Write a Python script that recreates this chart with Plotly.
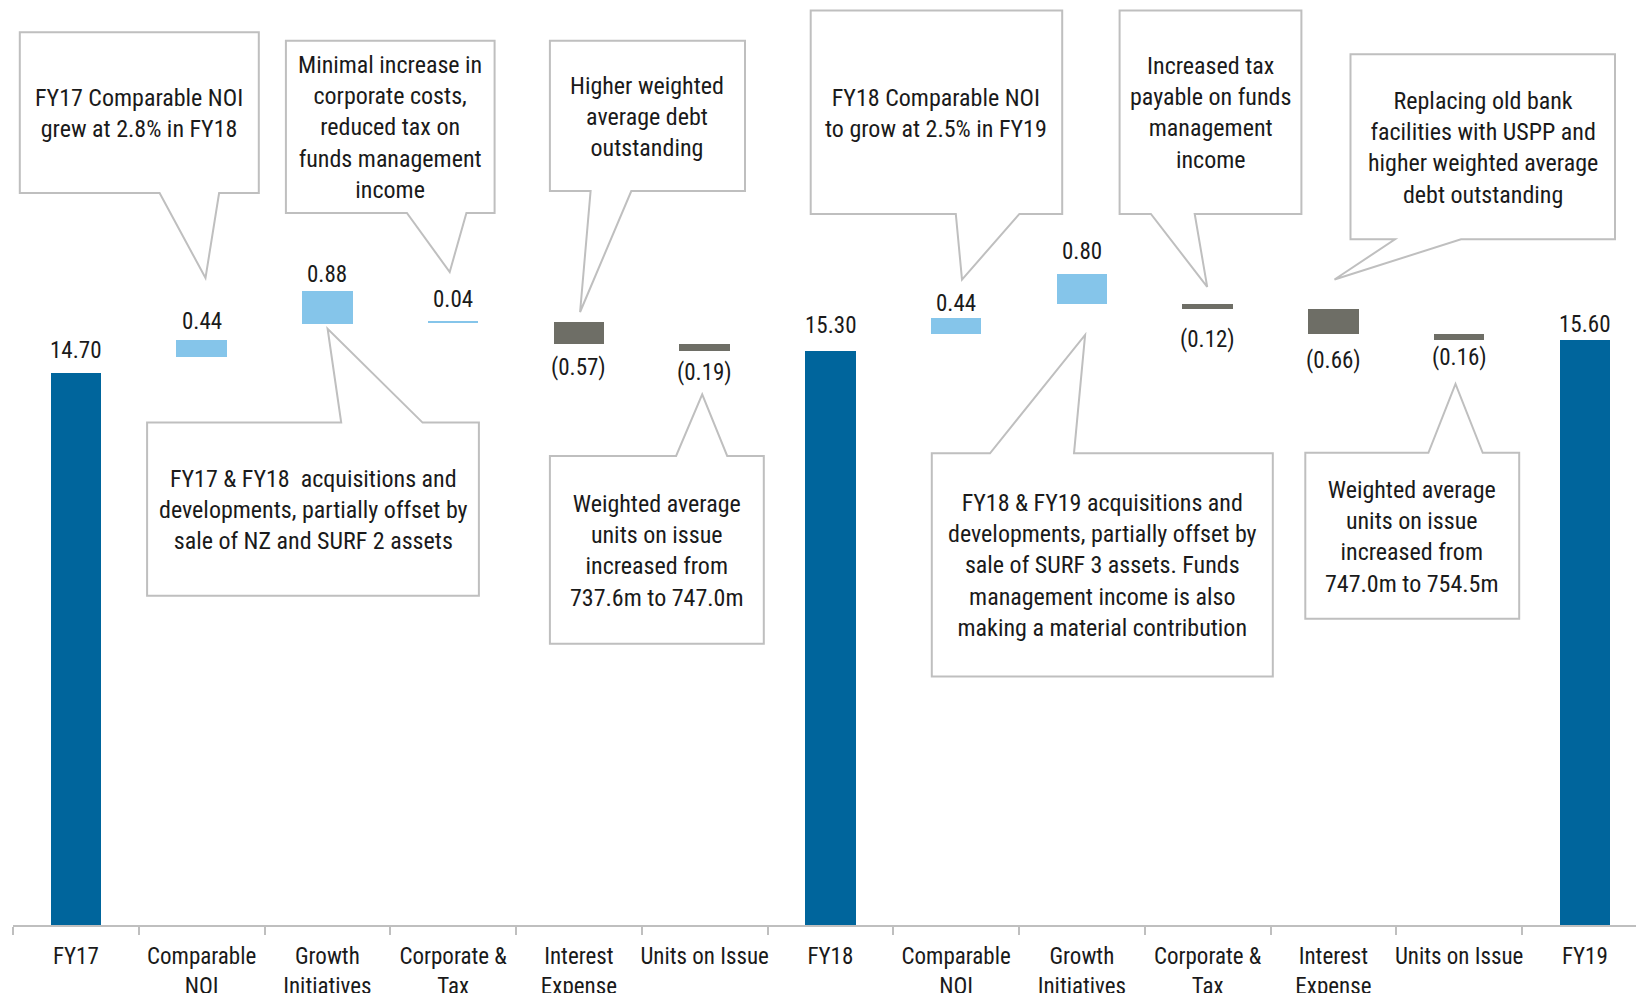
import plotly.graph_objects as go

# ---- data -------------------------------------------------------------
categories = [
    "FY17", "Comparable NOI", "Growth Initiatives", "Corporate & Tax",
    "Interest Expense", "Units on Issue", "FY18", "Comparable NOI",
    "Growth Initiatives", "Corporate & Tax", "Interest Expense",
    "Units on Issue", "FY19",
]
tick_labels = [
    "FY17", "Comparable<br>NOI", "Growth<br>Initiatives", "Corporate &<br>Tax",
    "Interest<br>Expense", "Units on Issue", "FY18", "Comparable<br>NOI",
    "Growth<br>Initiatives", "Corporate &<br>Tax", "Interest<br>Expense",
    "Units on Issue", "FY19",
]
values = [14.70, 0.44, 0.88, 0.04, -0.57, -0.19, 15.30,
          0.44, 0.80, -0.12, -0.66, -0.16, 15.60]
is_total = [True, False, False, False, False, False, True,
            False, False, False, False, False, True]

callout_texts = [
    "FY17 Comparable NOI<br>grew at 2.8% in FY18",
    "Minimal increase in<br>corporate costs,<br>reduced tax on<br>funds management<br>income",
    "Higher weighted<br>average debt<br>outstanding",
    "FY18 Comparable NOI<br>to grow at 2.5% in FY19",
    "Increased tax<br>payable on funds<br>management<br>income",
    "Replacing old bank<br>facilities with USPP and<br>higher weighted average<br>debt outstanding",
    "FY17 &amp; FY18\u00a0 acquisitions and<br>developments, partially offset by<br>sale of NZ and SURF 2 assets",
    "Weighted average<br>units on issue<br>increased from<br>737.6m to 747.0m",
    "FY18 &amp; FY19 acquisitions and<br>developments, partially offset by<br>sale of SURF 3 assets. Funds<br>management income is also<br>making a material contribution",
    "Weighted average<br>units on issue<br>increased from<br>747.0m to 754.5m",
]

# ---- styling ----------------------------------------------------------
FONT = ("Roboto Condensed, Noto Sans Condensed, Liberation Sans Narrow, "
        "Arial Narrow, DejaVu Sans Condensed, sans-serif")
C_TOTAL = "#00659C"
C_UP = "#85C5EA"
C_DOWN = "#6E6E66"
C_BOX = "#BFBFBF"
C_TEXT = "#1A1A1A"

W, H = 1636, 993
ML, MB = 13, 68
PLOT_W, PLOT_H = W - ML, H - MB
CAT_PX = 125.75          # pixel width of one category
UNIT_PX = 37.53          # pixels per unit on the value axis

# extra downward nudge (px) of each value label, label by label
label_nudge = [2, 2, 4, -1, 1, -1, -1, 6, -2, 8, 4, -4, 9]

# ---- waterfall geometry (floating bars sit on the running total) -------
bases, heights, colors, labels = [], [], [], []
running = 0.0
for v, tot in zip(values, is_total):
    if tot:
        running = v
        bases.append(0.0)
        heights.append(v)
        colors.append(C_TOTAL)
        labels.append(f"{v:.2f}")
    else:
        running += v
        if v >= 0:
            bases.append(running)
            colors.append(C_UP)
            labels.append(f"{v:.2f}")
        else:
            bases.append(running - v)
            colors.append(C_DOWN)
            labels.append(f"({abs(v):.2f})")
        heights.append(v)

xs = list(range(len(categories)))

fig = go.Figure()
fig.add_trace(go.Bar(
    x=xs, y=heights, base=bases, width=0.4,
    marker=dict(color=colors, line=dict(width=0)),
    hovertext=categories, showlegend=False,
))

# value labels
for i, (b, h, lab, tot) in enumerate(zip(bases, heights, labels, is_total)):
    nudge = label_nudge[i] * 1.04
    if h >= 0:
        fig.add_annotation(x=i, y=b + h, xref="x", yref="y", text=lab,
                           showarrow=False, yanchor="bottom",
                           yshift=(9 if tot else 5) - nudge,
                           font=dict(family=FONT, size=23, color=C_TEXT))
    else:
        fig.add_annotation(x=i, y=b + h, xref="x", yref="y", text=lab,
                           showarrow=False, yanchor="top", yshift=-7 - nudge,
                           font=dict(family=FONT, size=23, color=C_TEXT))

# ---- callouts (pixel layout: box x0, x1, y0, y1, tail side, tail base a, b, apex) ----
callout_boxes = [
    (19.8, 258.8, 32.3, 193.0, "bottom", 159.6, 219.1, (205.5, 278.0)),
    (285.9, 494.6, 40.7, 213.0, "bottom", 406.9, 466.4, (449.7, 272.0)),
    (549.9, 745.0, 40.7, 191.0, "bottom", 590.6, 631.3, (580.1, 312.0)),
    (810.7, 1062.2, 10.4, 213.9, "bottom", 955.8, 1019.4, (962.0, 279.6)),
    (1119.6, 1301.4, 10.4, 213.9, "bottom", 1150.9, 1194.7, (1207.2, 286.9)),
    (1350.5, 1615.0, 54.3, 239.3, "bottom", 1395.0, 1461.0, (1334.5, 279.5)),
    (147.1, 478.9, 422.6, 595.8, "top", 341.2, 422.6, (327.6, 328.7)),
    (549.9, 763.8, 456.0, 643.8, "top", 676.1, 727.2, (702.2, 394.4)),
    (931.8, 1272.8, 453.3, 676.5, "top", 990.0, 1074.0, (1085.1, 334.9)),
    (1305.3, 1519.2, 452.8, 618.7, "top", 1428.4, 1482.7, (1455.5, 384.0)),
]


def paper(px, py):
    return (px - ML) / PLOT_W, (PLOT_H - py) / PLOT_H


def path_of(points):
    pts = [paper(*p) for p in points]
    return "M " + " L ".join(f"{x:.5f},{y:.5f}" for x, y in pts) + " Z"


for (x0, x1, y0, y1, side, ta, tb, apex), txt in zip(callout_boxes, callout_texts):
    if side == "bottom":
        pts = [(x0, y0), (x1, y0), (x1, y1), (tb, y1), apex, (ta, y1), (x0, y1)]
    else:
        pts = [(x0, y0), (ta, y0), apex, (tb, y0), (x1, y0), (x1, y1), (x0, y1)]
    fig.add_shape(type="path", path=path_of(pts), xref="paper", yref="paper",
                  line=dict(color=C_BOX, width=2), fillcolor="white", layer="above")
    cx, cy = paper((x0 + x1) / 2, (y0 + y1) / 2 + 1)
    fig.add_annotation(x=cx, y=cy, xref="paper", yref="paper", text=txt,
                       showarrow=False, xanchor="center", yanchor="middle",
                       align="center",
                       font=dict(family=FONT, size=24, color=C_TEXT))

# ---- axes & layout ----------------------------------------------------
fig.update_xaxes(
    range=[-0.5, -0.5 + PLOT_W / CAT_PX],
    tickmode="array", tickvals=xs, ticktext=tick_labels,
    ticks="outside", ticklen=9, tickcolor="rgba(0,0,0,0)",
    tickfont=dict(family=FONT, size=23, color=C_TEXT),
    showline=True, linecolor=C_BOX, linewidth=2,
    showgrid=False, zeroline=False, automargin=False,
    minor=dict(tickmode="array", tickvals=[i - 0.5 for i in range(len(xs) + 1)],
               ticks="outside", ticklen=8, tickwidth=2, tickcolor=C_BOX,
               showgrid=False),
)
fig.update_yaxes(range=[0, PLOT_H / UNIT_PX], visible=False,
                 showgrid=False, zeroline=False, automargin=False)

fig.update_layout(
    width=W, height=H,
    margin=dict(l=ML, r=0, t=0, b=MB, autoexpand=False),
    paper_bgcolor="white", plot_bgcolor="white",
    bargap=0, showlegend=False,
    font=dict(family=FONT, color=C_TEXT),
)

fig.write_html("out.html")
